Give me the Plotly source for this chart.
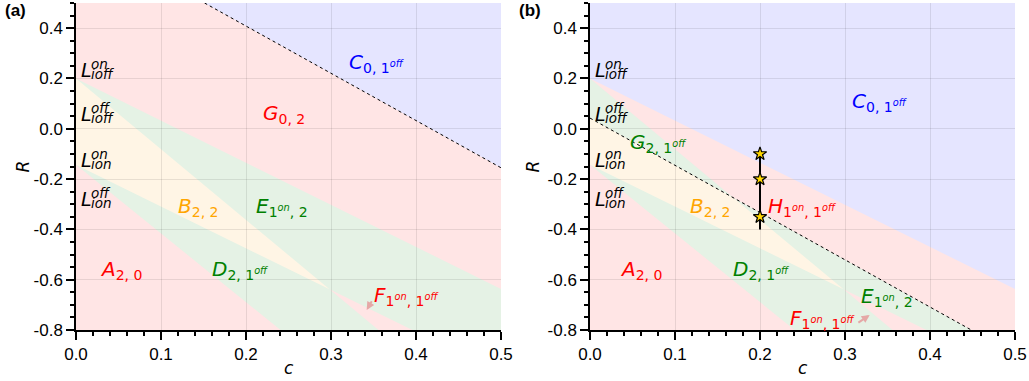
import plotly.graph_objects as go
from plotly.subplots import make_subplots

# ---- axes ----
c_range = [0.0, 0.5]
R_range = [-0.8, 0.5]
x_tickvals = [0.0, 0.1, 0.2, 0.3, 0.4, 0.5]
x_ticktext = ["0.0", "0.1", "0.2", "0.3", "0.4", "0.5"]
y_tickvals = [-0.8, -0.6, -0.4, -0.2, 0.0, 0.2, 0.4]
y_ticktext = ["-0.8", "-0.6", "-0.4", "-0.2", "0.0", "0.2", "0.4"]

# ---- boundary lines, R = R0 - k * c ----
UL = (0.2, 1.674)       # upper edge of the green/pink bands
U = (0.2, 2.81)         # from L_ioff^on
L = (-0.143, 1.66)      # from L_ion^on
AD = (-0.143, 2.73)     # lower edge of D
DOT_A = (0.784, 1.878)  # dotted line, panel (a)
DOT_B = (0.0425, 1.878) # dotted line, panel (b)

# ---- L point labels (baseline R on the c = 0 axis) ----
lpt_sup = ["on", "off", "on", "off"]
lpt_sub = ["ioff", "ioff", "ion", "ion"]
lpt_R = [0.204, 0.029, -0.15, -0.309]

# ---- trajectory in panel (b) ----
traj_c = [0.2, 0.2]
traj_R = [-0.1, -0.4]
star_c = [0.2, 0.2, 0.2]
star_R = [-0.1, -0.2, -0.35]

# ---- region labels: (text, colour, c, R) ----
labels_a = [
    ("<i>C</i><sub>0, 1<sup><i>off</i></sup></sub>", "#0000FF", 0.353, 0.262),
    ("<i>G</i><sub>0, 2</sub>", "#FF0000", 0.245, 0.06),
    ("<i>B</i><sub>2, 2</sub>", "#FFA500", 0.143, -0.31),
    ("<i>E</i><sub>1<sup><i>on</i></sup>, 2</sub>", "#008000", 0.242, -0.31),
    ("<i>A</i><sub>2, 0</sub>", "#FF0000", 0.053, -0.56),
    ("<i>D</i><sub>2, 1<sup><i>off</i></sup></sub>", "#008000", 0.193, -0.56),
    ("<i>F</i><sub>1<sup><i>on</i></sup>, 1<sup><i>off</i></sup></sub>", "#FF0000", 0.388, -0.665),
]
labels_b = [
    ("<i>C</i><sub>0, 1<sup><i>off</i></sup></sub>", "#0000FF", 0.341, 0.108),
    ("<i>G</i><sub>2, 1<sup><i>off</i></sup></sub>", "#008000", 0.08, -0.055),
    ("<i>H</i><sub>1<sup><i>on</i></sup>, 1<sup><i>off</i></sup></sub>", "#FF0000", 0.249, -0.31),
    ("<i>B</i><sub>2, 2</sub>", "#FFA500", 0.141, -0.31),
    ("<i>A</i><sub>2, 0</sub>", "#FF0000", 0.06, -0.56),
    ("<i>D</i><sub>2, 1<sup><i>off</i></sup></sub>", "#008000", 0.201, -0.56),
    ("<i>E</i><sub>1<sup><i>on</i></sup>, 2</sub>", "#008000", 0.349, -0.67),
    ("<i>F</i><sub>1<sup><i>on</i></sup>, 1<sup><i>off</i></sup></sub>", "#FF0000", 0.273, -0.755),
]
# arrows pointing into the thin F wedge: (tail c, tail R, head c, head R)
arrow_a = (0.349, -0.68, 0.342, -0.72)
arrow_b = (0.314, -0.775, 0.329, -0.74)

# region fills (light tints)
PINK = "#FFE5E5"
GREEN = "#E5F2E5"
YELLOW = "#FFF5E5"
BLUE = "#E5E5FF"


def R_at(line, c):
    return line[0] - line[1] * c


def c_at(line, R):
    return (line[0] - R) / line[1]


def cross(l1, l2):
    c = (l1[0] - l2[0]) / (l1[1] - l2[1])
    return (c, R_at(l1, c))


c0, c1 = c_range
Rlo, Rhi = R_range
X_UL = cross(U, L)

poly_a = [
    (PINK, [(c0, Rlo), (c1, Rlo), (c1, Rhi), (c0, Rhi)]),
    (BLUE, [(c_at(DOT_A, Rhi), Rhi), (c1, Rhi), (c1, R_at(DOT_A, c1))]),
    (GREEN, [(c0, UL[0]), (c1, R_at(UL, c1)), (c1, Rlo), (c_at(AD, Rlo), Rlo), (c0, AD[0])]),
    (YELLOW, [(c0, U[0]), X_UL, (c0, L[0])]),
    (PINK, [X_UL, (c_at(U, Rlo), Rlo), (c_at(L, Rlo), Rlo)]),
]
T = cross(U, DOT_B)
poly_b = [
    (PINK, [(c0, Rlo), (c1, Rlo), (c1, Rhi), (c0, Rhi)]),
    (BLUE, [(c0, UL[0]), (c0, Rhi), (c1, Rhi), (c1, R_at(UL, c1))]),
    (GREEN, [(c0, DOT_B[0]), (c_at(DOT_B, Rlo), Rlo), (c_at(AD, Rlo), Rlo), (c0, AD[0])]),
    (GREEN, [(c0, U[0]), (c0, DOT_B[0]), T]),
    (YELLOW, [(c0, DOT_B[0]), T, X_UL, (c0, L[0])]),
    (PINK, [X_UL, (c_at(U, Rlo), Rlo), (c_at(L, Rlo), Rlo)]),
]


def path_of(pts):
    return "M " + " L ".join(f"{c},{r}" for c, r in pts) + " Z"


fig = make_subplots(rows=1, cols=2, horizontal_spacing=0.0)

shapes = []
for xr, yr, polys in (("x", "y", poly_a), ("x2", "y2", poly_b)):
    for col, pts in polys:
        shapes.append(dict(type="path", path=path_of(pts), xref=xr, yref=yr,
                           fillcolor=col, line=dict(width=0), layer="below"))

# dotted boundary lines
fig.add_trace(go.Scatter(x=[c_at(DOT_A, Rhi), c1], y=[Rhi, R_at(DOT_A, c1)], mode="lines",
                         line=dict(color="black", width=1, dash="dot"), showlegend=False,
                         hoverinfo="skip"), row=1, col=1)
fig.add_trace(go.Scatter(x=[c0, c_at(DOT_B, Rlo)], y=[DOT_B[0], Rlo], mode="lines",
                         line=dict(color="black", width=1, dash="dot"), showlegend=False,
                         hoverinfo="skip"), row=1, col=2)

# trajectory with stars
fig.add_trace(go.Scatter(x=traj_c, y=traj_R, mode="lines", line=dict(color="black", width=2),
                         showlegend=False), row=1, col=2)
fig.add_trace(go.Scatter(x=star_c, y=star_R, mode="markers",
                         marker=dict(symbol="star", size=10, color="#FFD700",
                                     line=dict(color="black", width=1.2)),
                         showlegend=False), row=1, col=2)

ann = []
region_font = "DejaVu Sans"
for xr, yr, labs in (("x", "y", labels_a), ("x2", "y2", labels_b)):
    for txt, col, c, r in labs:
        ann.append(dict(text=txt, x=c, y=r, xref=xr, yref=yr, showarrow=False,
                        xanchor="center", yanchor="middle",
                        font=dict(family=region_font, size=20, color=col)))
    for sup, sub, r in zip(lpt_sup, lpt_sub, lpt_R):
        ann.append(dict(text="<i>L</i>", x=0.004, y=r, xref=xr, yref=yr, showarrow=False,
                        xanchor="left", yanchor="middle", yshift=7,
                        font=dict(family=region_font, size=19, color="black")))
        ann.append(dict(text=f"<i>{sup}</i>", x=0.004, y=r, xref=xr, yref=yr, showarrow=False,
                        xanchor="left", yanchor="middle", xshift=10, yshift=13,
                        font=dict(family=region_font, size=13.5, color="black")))
        ann.append(dict(text=f"<i>{sub}</i>", x=0.004, y=r, xref=xr, yref=yr, showarrow=False,
                        xanchor="left", yanchor="middle", xshift=10, yshift=3,
                        font=dict(family=region_font, size=13.5, color="black")))

for xr, yr, (tc, tr, hc, hr) in (("x", "y", arrow_a), ("x2", "y2", arrow_b)):
    ann.append(dict(text="", x=hc, y=hr, ax=tc, ay=tr, xref=xr, yref=yr, axref=xr, ayref=yr,
                    showarrow=True, arrowhead=2, arrowsize=0.8, arrowwidth=2,
                    arrowcolor="rgba(230,160,160,0.9)"))

# panel letters and axis titles
tick_font = dict(family="Liberation Sans", size=17, color="black")
for dom, letter, rshift in (("x", "(a)", -54), ("x2", "(b)", -58)):
    ann.append(dict(text=f"<b>{letter}</b>", x=0, y=1, xref=f"{dom} domain", yref="paper",
                    xanchor="center", yanchor="middle", xshift=-61 if dom == "x" else -60,
                    yshift=-7, showarrow=False, font=tick_font))
    ann.append(dict(text="<i>R</i>", x=0, y=0.5, xref=f"{dom} domain", yref="paper",
                    xanchor="center", yanchor="middle", xshift=rshift, textangle=-90,
                    showarrow=False, font=dict(family="DejaVu Sans", size=17, color="black")))
    ann.append(dict(text="<i>c</i>", x=0.5, y=0, xref=f"{dom} domain", yref="paper",
                    xanchor="center", yanchor="middle", yshift=-38,
                    showarrow=False, font=dict(family="DejaVu Sans", size=17, color="black")))

axis_common = dict(showline=True, linecolor="black", linewidth=1.5, mirror=False,
                   ticks="outside", ticklen=8, tickwidth=1.5, tickcolor="black",
                   showgrid=True, gridcolor="rgba(0,0,0,0.09)", gridwidth=1,
                   zeroline=False, tickfont=tick_font)
fig.update_xaxes(range=c_range, tickvals=x_tickvals, ticktext=x_ticktext,
                 minor=dict(dtick=0.02, tick0=0, ticks="outside", ticklen=4, tickcolor="black",
                            showgrid=False),
                 **axis_common)
fig.update_yaxes(range=R_range, tickvals=y_tickvals, ticktext=y_ticktext,
                 minor=dict(dtick=0.05, tick0=0, ticks="outside", ticklen=4, tickcolor="black",
                            showgrid=False),
                 **axis_common)
fig.update_layout(xaxis=dict(domain=[0, 425 / 939]), xaxis2=dict(domain=[514 / 939, 1]))

fig.update_layout(width=1029, height=381, margin=dict(l=76, r=14, t=3, b=51),
                  plot_bgcolor="white", paper_bgcolor="white",
                  shapes=shapes, annotations=ann, showlegend=False)

fig.write_html("out.html")
